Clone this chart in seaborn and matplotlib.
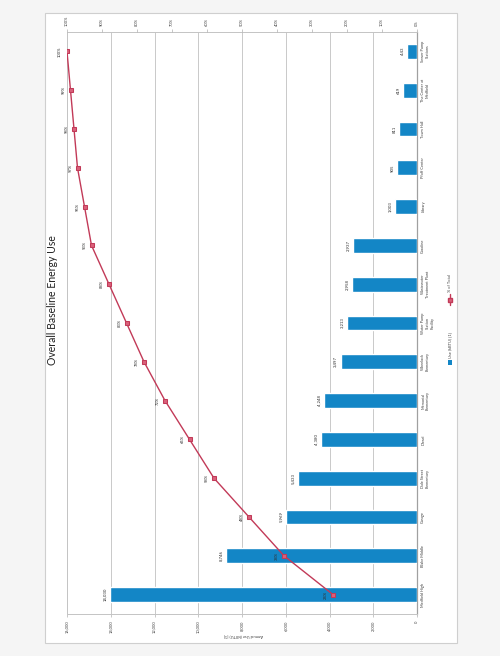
import matplotlib
matplotlib.use("Agg")
import matplotlib.pyplot as plt
import seaborn as sns
import numpy as np
import pandas as pd
from matplotlib.patches import Rectangle
from matplotlib.lines import Line2D

categories = ["Medfield High", "Blake Middle", "Garage", "Dale Street\nElementary", "Diesel",
              "Memorial\nElementary", "Wheelock\nElementary", "Water Pump\nStation\nFacility",
              "Wastewater\nTreatment Plant", "Gasoline", "Library", "Pfaff Center", "Town Hall",
              "The Center at\nMedfield", "Sewer Pump\nStations"]
use_kbtu = [14030, 8746, 5969, 5433, 4380, 4248, 3497, 3213, 2958, 2937, 1003, 905, 811, 619, 443]
pct_total = [24, 38, 48, 58, 65, 72, 78, 83, 88, 93, 95, 97, 98, 99, 100]
primary_ticks = [0, 2000, 4000, 6000, 8000, 10000, 12000, 14000, 16000]
pct_ticks = [0, 10, 20, 30, 40, 50, 60, 70, 80, 90, 100]

sns.set_theme(style="white")
plt.rcParams['font.family'] = ['Lato', 'DejaVu Sans']

BLUE = "#1386C6"
RED = "#C23A58"
W, H = 500, 656

fig = plt.figure(figsize=(W / 100, H / 100), dpi=100)
fig.patch.set_facecolor("#f5f5f5")

def fx(x):
    return x / W

def fy(y):
    return 1 - y / H

# chart area border
fig.patches.append(Rectangle((fx(45), fy(643)), fx(457) - fx(45), fy(13) - fy(643),
                             transform=fig.transFigure, facecolor="white",
                             edgecolor="#cfcfcf", lw=0.8, zorder=-10))

ax = fig.add_axes([fx(67), fy(614), fx(417) - fx(67), fy(32) - fy(614)])
ax.set_facecolor("white")
df = pd.DataFrame({"cat": categories, "use": use_kbtu})
sns.barplot(data=df, x="use", y="cat", orient="h", color=BLUE, width=0.38, ax=ax,
            saturation=1, zorder=3, order=categories)
ax.set_ylim(-0.5, len(categories) - 0.5)
ax.set_xlim(16000, 0)
ax.set_xticks(primary_ticks)
ax.set_xticklabels([f"{t:,}" for t in primary_ticks], rotation=90, fontsize=2.9, color="#404040")
ax.xaxis.grid(True, color="#c9c9c9", lw=0.7, zorder=0)
ax.set_axisbelow(True)
ax.yaxis.tick_right()
ax.set_yticks(range(len(categories)))
ax.set_yticklabels(categories, rotation=90, fontsize=2.8, color="#404040",
                   va="center", ha="left", multialignment="center")
ax.tick_params(axis="y", length=0, pad=3)
ax.tick_params(axis="x", length=2.5, width=0.5, color="#b0b0b0", pad=2)
ax.set_xlabel("")
ax.set_ylabel("")
for s in ["top", "bottom", "left"]:
    ax.spines[s].set_color("#c4c4c4")
    ax.spines[s].set_linewidth(0.7)
ax.spines["right"].set_color("#a0a0a0")
ax.spines["right"].set_linewidth(0.9)

for i, v in enumerate(use_kbtu):
    ax.annotate(f"{v:,}", (v, i), xytext=(-2, 0), textcoords="offset points",
                rotation=90, ha="right", va="center", fontsize=3.1, color="#303030", zorder=5)

ax2 = ax.twiny()
ax2.set_xlim(100, 0)
ax2.set_ylim(-0.5, len(categories) - 0.5)
sns.lineplot(x=pct_total, y=list(range(len(categories))), ax=ax2, sort=False, color=RED,
             lw=1.0, marker="s", markersize=2.6, markeredgecolor=RED, markerfacecolor="#d9607a",
             zorder=6)
ax2.set_xticks(pct_ticks)
ax2.set_xticklabels([f"{t}%" for t in pct_ticks], rotation=90, fontsize=2.9, color="#404040")
ax2.tick_params(axis="x", length=2.5, width=0.5, color="#b0b0b0", pad=2)
for s in ax2.spines.values():
    s.set_visible(False)
ax2.set_ylabel("")
for i, p in enumerate(pct_total):
    ax2.annotate(f"{p}%", (p, i), xytext=(-3.5, 0), textcoords="offset points",
                 rotation=90, ha="right", va="center", fontsize=3.0, color="#303030", zorder=7)

# title
fig.text(fx(53), fy(300), "Overall Baseline Energy Use", rotation=90, ha="center", va="center",
         fontsize=7.6, color="#202020")
# axis title
fig.text(fx(243), fy(636), "Annual Use (kBTU) [1]", rotation=180, ha="center", va="center",
         fontsize=2.9, color="#404040")

# legend (rotated with the chart)
fig.patches.append(Rectangle((fx(447.5), fy(365)), fx(4.5), fy(0) - fy(5), transform=fig.transFigure,
                             facecolor=BLUE, edgecolor="none"))
fig.text(fx(450), fy(358), "Use (kBTU) [1]", rotation=90, ha="center", va="bottom",
         fontsize=2.9, color="#404040")
fig.lines.append(Line2D([fx(450), fx(450)], [fy(305), fy(294)], transform=fig.transFigure,
                        color=RED, lw=1.0))
fig.lines.append(Line2D([fx(450)], [fy(299.5)], transform=fig.transFigure,
                        color=RED, lw=0, marker="s", markersize=2.2,
                        markerfacecolor="#d9607a", markeredgecolor=RED))
fig.text(fx(450), fy(292), "% of Total", rotation=90, ha="center", va="bottom",
         fontsize=2.9, color="#404040")

fig.savefig("out.png", dpi=100, facecolor=fig.get_facecolor())
